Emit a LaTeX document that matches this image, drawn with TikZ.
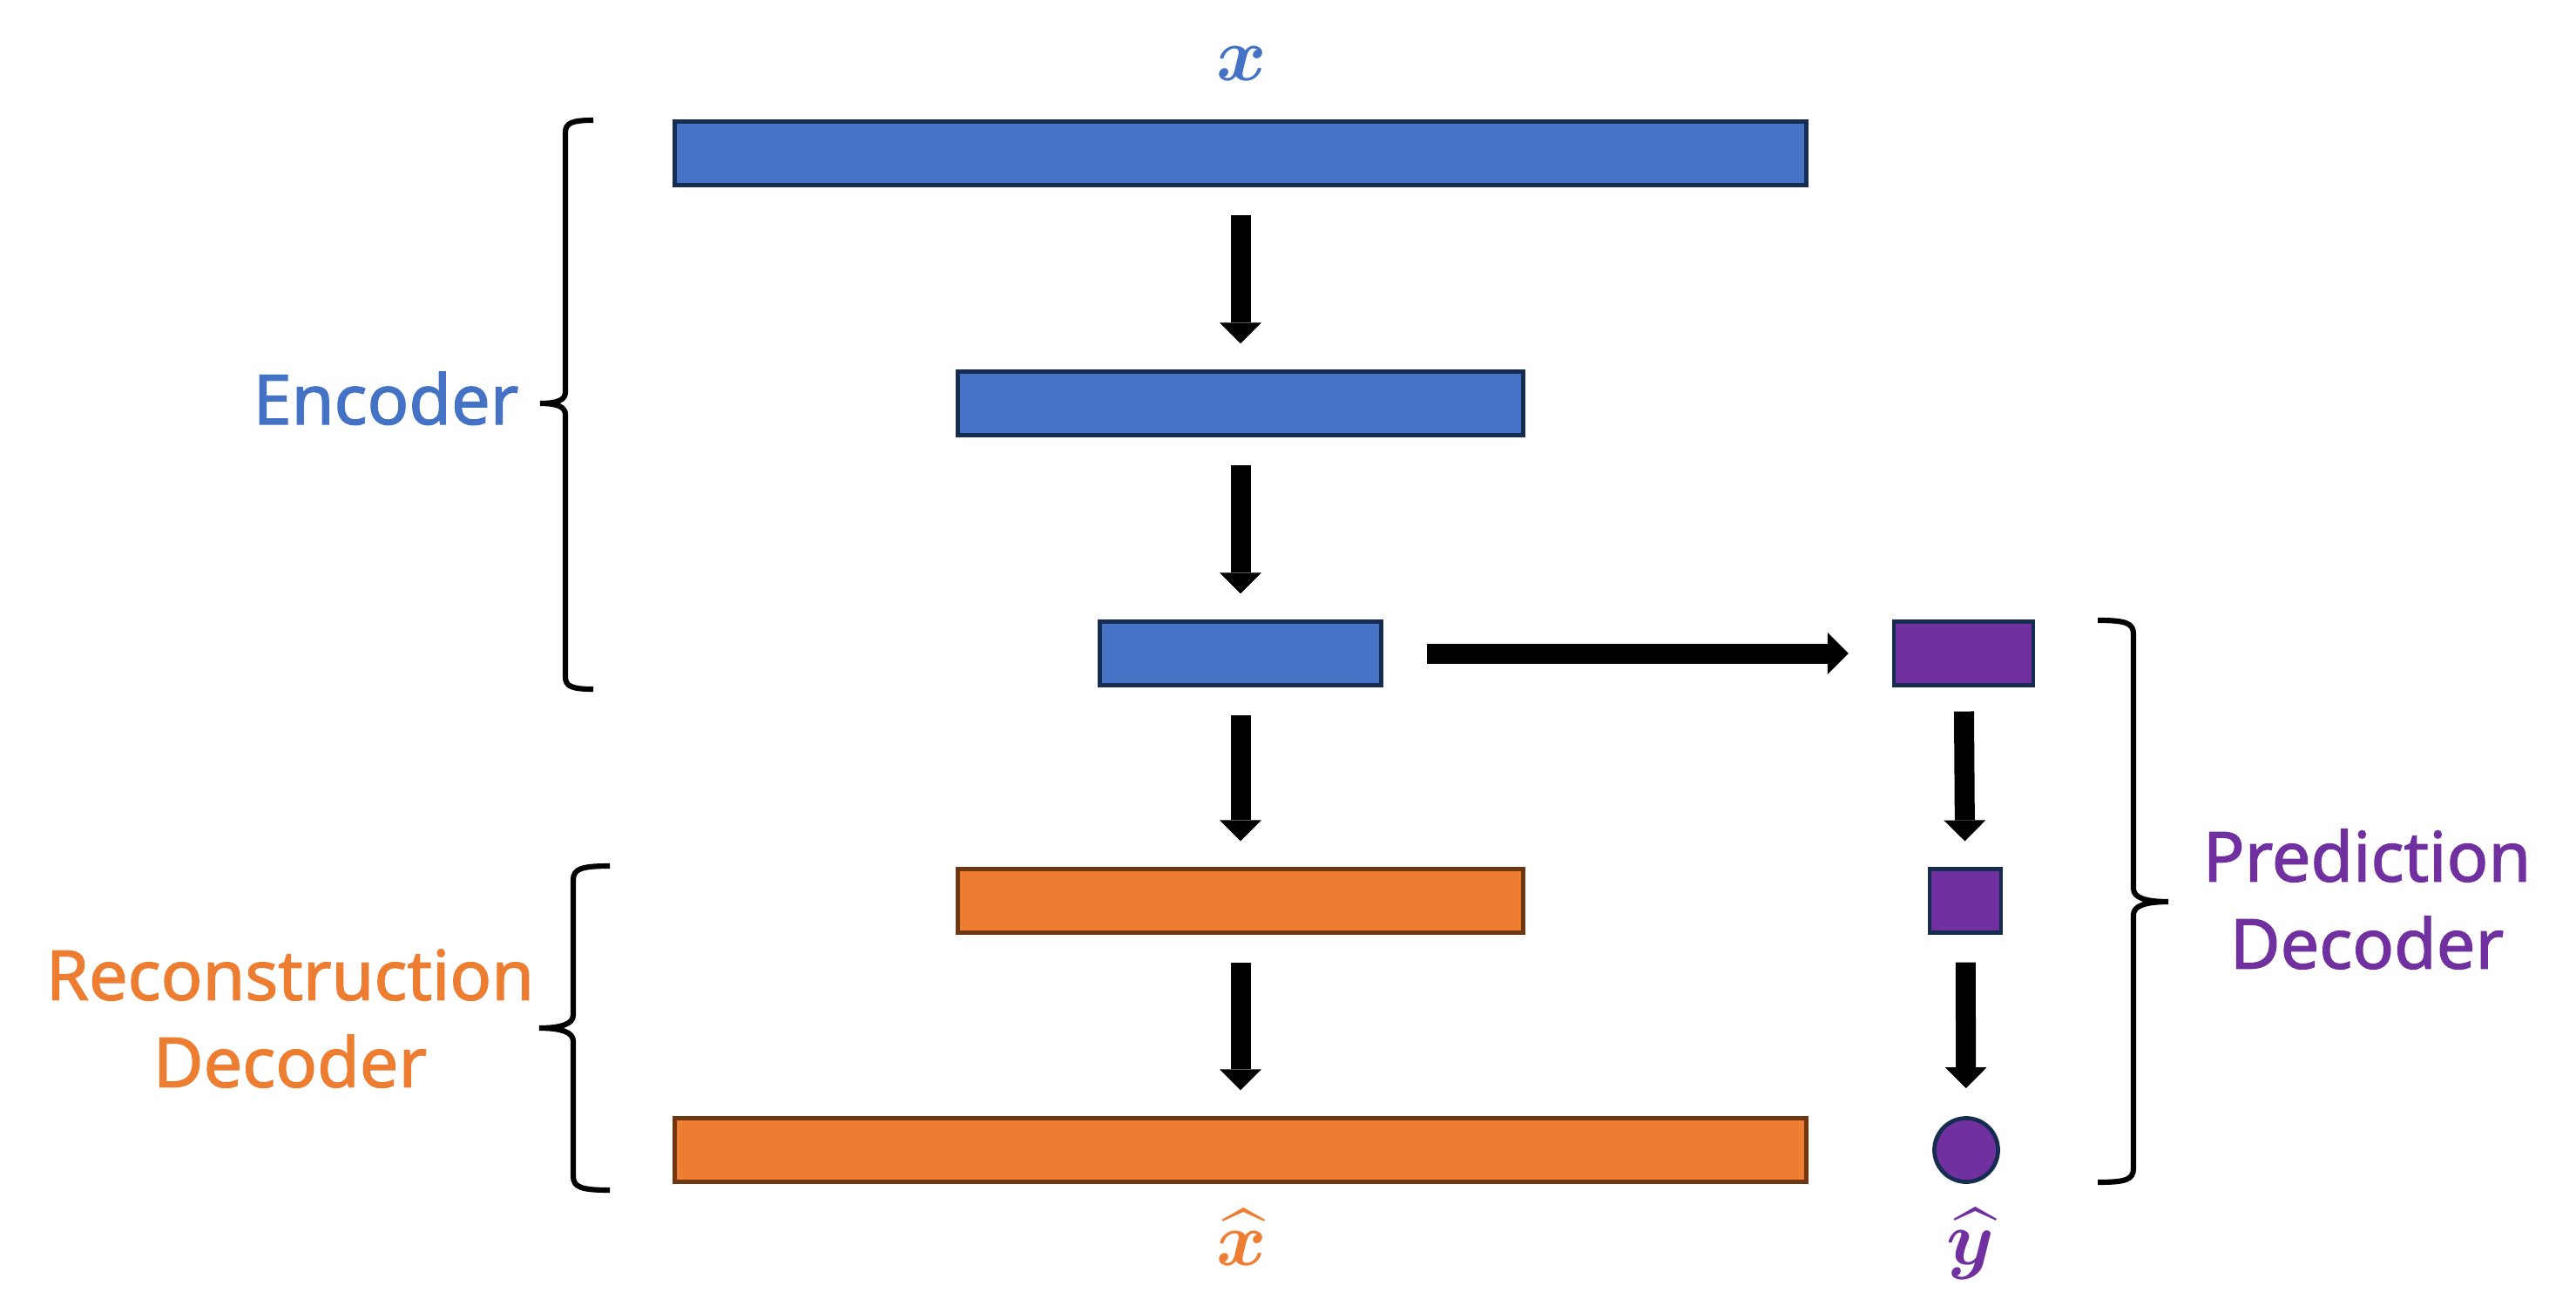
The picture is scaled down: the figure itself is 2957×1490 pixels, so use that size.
\documentclass[tikz,border=0pt]{standalone}
\usepackage{fontspec}
\setmainfont{Noto Sans}
\newfontfamily\lblfont{Noto Sans}[FakeBold=1.6]
\usepackage{amsmath}
\usepackage{bm}
\usetikzlibrary{arrows.meta}
\definecolor{cblue}{HTML}{4472C4}
\definecolor{corange}{HTML}{ED7D31}
\definecolor{cpurple}{HTML}{7030A0}
\definecolor{cnavy}{HTML}{172C51}
\definecolor{cbrown}{HTML}{6E3712}
\begin{document}
\begin{tikzpicture}[x=0.01cm,y=-0.01cm,
  bar/.style={draw, line width=1.35pt, minimum height=0.73cm, inner sep=0pt, outer sep=0pt},
  enc/.style={bar, fill=cblue, draw=cnavy},
  rec/.style={bar, fill=corange, draw=cbrown},
  pred/.style={bar, fill=cpurple, draw=cnavy},
  flow/.style={line width=0.23cm, -{Triangle[length=0.24cm,width=0.48cm,line width=0pt]}, shorten <=0.34cm, shorten >=0.32cm},
  bracestroke/.style={line width=1.75pt},
  lbl/.style={font=\lblfont\fontsize{22.5}{28.45}\selectfont, align=center, inner sep=0pt},
  mathlbl/.style={font=\fontsize{25}{30}\selectfont, inner sep=0pt},
]
\fill[white] (0,0) rectangle (2957,1490);
\useasboundingbox (0,0) rectangle (2957,1490);

% encoder column
\node[enc, minimum width=12.98cm] (e1) at (1424,176) {};
\node[enc, minimum width=6.49cm] (e2) at (1424,463) {};
\node[enc, minimum width=3.23cm] (e3) at (1424,750) {};
% reconstruction decoder
\node[rec, minimum width=6.49cm] (r1) at (1424,1034) {};
\node[rec, minimum width=12.98cm] (r2) at (1424,1320) {};
% prediction decoder
\node[pred, minimum width=1.60cm] (p1) at (2254,750) {};
\node[pred, minimum width=0.82cm] (p2) at (2256,1034) {};
\node[circle, draw=cnavy, fill=cpurple, line width=1.35pt, minimum size=0.73cm, inner sep=0pt] (p3) at (2257,1320) {};

% labels
\node[mathlbl, text=cblue] (lx) at (1425,73) {$\bm{x}$};
\node[mathlbl, text=corange] (lxh) at (1425,1420) {$\widehat{\bm{x}}$};
\node[mathlbl, text=cpurple] (lyh) at (2262,1428) {$\widehat{\bm{y}}$};

% arrows
\draw[flow] (e1) -- (e2);
\draw[flow] (e2) -- (e3);
\draw[flow] (e3) -- (r1);
\draw[flow] (r1) -- (r2);
\draw[flow, shorten <=0.52cm, shorten >=0.52cm] (e3) -- (p1);
\draw[flow, shorten <=0.30cm] (p1) -- (p2);
\draw[flow] (p2) -- (p3);

% braces
\draw[bracestroke] (681,138) .. controls (657,138) and (649,141) .. (649,152) -- (649,450)
  .. controls (649,459) and (640,463) .. (620,463)
  .. controls (640,463) and (649,467) .. (649,476) -- (649,777)
  .. controls (649,788) and (657,791) .. (681,791);
\draw[bracestroke] (700,994) .. controls (668,994) and (658,997) .. (658,1010) -- (658,1165)
  .. controls (658,1175) and (645,1180) .. (619,1180)
  .. controls (645,1180) and (658,1185) .. (658,1195) -- (658,1350)
  .. controls (658,1363) and (668,1366) .. (700,1366);
\draw[bracestroke] (2408,712) .. controls (2440,712) and (2449,715) .. (2449,728) -- (2449,1020)
  .. controls (2449,1030) and (2462,1035) .. (2489,1035)
  .. controls (2462,1035) and (2449,1040) .. (2449,1050) -- (2449,1341)
  .. controls (2449,1354) and (2440,1357) .. (2408,1357);

% group names
\node[lbl, text=cblue, anchor=base] (tenc) at (443,487) {Encoder};
\node[lbl, text=corange] (trec) at (333,1169) {Reconstruction\\Decoder};
\node[lbl, text=cpurple] (tpred) at (2717,1032) {Prediction\\Decoder};
\end{tikzpicture}
\end{document}
